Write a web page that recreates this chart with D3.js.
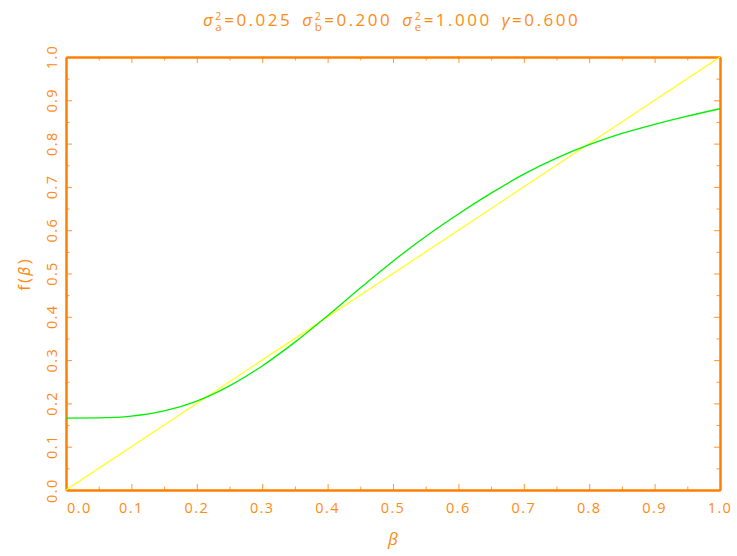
<!DOCTYPE html>
<html><head><meta charset="utf-8">
<script src="https://cdn.jsdelivr.net/npm/d3@7"></script>
<style>
body{margin:0;background:#fff}
svg{display:block}
text{font-family:'Open Sans',sans-serif;font-weight:400}
</style>
</head><body>
<svg id="c" width="737" height="556"></svg>
<script>
// ---- data ----
const betaValues = [0, 0.05, 0.1, 0.15, 0.2, 0.25, 0.3, 0.35, 0.4, 0.45, 0.5, 0.55, 0.6, 0.65, 0.7, 0.75, 0.8, 0.85, 0.9, 0.95, 1.0];
const fValues    = [0.166, 0.1665, 0.1705, 0.1825, 0.2055, 0.2405, 0.2865, 0.3415, 0.4025, 0.4665, 0.5285, 0.5855, 0.6375, 0.6855, 0.7295, 0.7665, 0.7975, 0.8235, 0.8445, 0.8635, 0.8805];
const diagonalBeta = [0, 1];
const diagonalF    = [0, 1];
const majorTicks = [0, 0.1, 0.2, 0.3, 0.4, 0.5, 0.6, 0.7, 0.8, 0.9, 1.0];
const minorTicks = [0.05, 0.15, 0.25, 0.35, 0.45, 0.55, 0.65, 0.75, 0.85, 0.95];
const tickLabels = ["0.0","0.1","0.2","0.3","0.4","0.5","0.6","0.7","0.8","0.9","1.0"];
const titleParams = [
  {sym:"σ", sub:"a", val:"0.025"},
  {sym:"σ", sub:"b", val:"0.200"},
  {sym:"σ", sub:"e", val:"1.000"}
];
const gammaSym = "γ", gammaVal = "0.600";
const xTitle = "β";
const yTitle = "f(β)";

// ---- layout ----
const ORANGE = "#ff8000", TEXT = "#ff8a14";
const svg = d3.select("#c");
const x = d3.scaleLinear().domain([0,1]).range([66,720]);
const y = d3.scaleLinear().domain([0,1]).range([490,57]);

function styleAxis(g){
  g.select(".domain").attr("stroke", ORANGE).attr("stroke-width", 2);
  g.selectAll(".tick line").attr("stroke", ORANGE).attr("stroke-width", 1).attr("opacity", 0.8);
  g.selectAll("text").remove();
}
// minor ticks
[[d3.axisBottom(x), `translate(0,490)`],[d3.axisTop(x), `translate(0,57)`],
 [d3.axisLeft(y), `translate(66,0)`],[d3.axisRight(y), `translate(720,0)`]].forEach(([ax,t])=>{
  svg.append("g").attr("transform", t)
    .call(ax.tickValues(minorTicks).tickSize(-3.5).tickSizeOuter(0).tickFormat(""))
    .call(styleAxis);
});
// major ticks + frame
svg.append("g").attr("transform","translate(0,490)")
  .call(d3.axisBottom(x).tickValues(majorTicks).tickSize(-6).tickSizeOuter(0)).call(styleAxis);
svg.append("g").attr("transform","translate(0,57)")
  .call(d3.axisTop(x).tickValues(majorTicks).tickSize(-6).tickSizeOuter(0)).call(styleAxis);
svg.append("g").attr("transform","translate(66,0)")
  .call(d3.axisLeft(y).tickValues(majorTicks).tickSize(-6).tickSizeOuter(0)).call(styleAxis);
svg.append("g").attr("transform","translate(720,0)")
  .call(d3.axisRight(y).tickValues(majorTicks).tickSize(-6).tickSizeOuter(0)).call(styleAxis);

// tick labels
const lblStyle = s => s.attr("fill", TEXT).attr("font-size", 14.5).attr("letter-spacing", 1.4);
svg.append("g").selectAll("text").data(majorTicks).join("text")
  .attr("x", (d,i)=> i===0 ? 67 : x(d))
  .attr("y", 513)
  .attr("text-anchor", (d,i)=> i===0 ? "start" : "middle")
  .text((d,i)=>tickLabels[i]).call(lblStyle);
svg.append("g").selectAll("text").data(majorTicks).join("text")
  .attr("transform", (d,i)=> i===0 ? `translate(57,503) rotate(-90)` : `translate(57,${y(d)}) rotate(-90)`)
  .attr("text-anchor", (d,i)=> i===0 ? "start" : "middle")
  .text((d,i)=>tickLabels[i]).call(lblStyle);

// axis titles
svg.append("text").attr("x", 393).attr("y", 545).attr("text-anchor","middle")
  .attr("fill", TEXT).attr("font-size", 17).attr("font-family","DejaVu Sans").attr("font-style","italic").text(xTitle);
const yt = svg.append("text").attr("transform","translate(30,274) rotate(-90)").attr("text-anchor","middle")
  .attr("fill", TEXT).attr("font-size", 17).attr("letter-spacing", 2);
yt.append("tspan").text(yTitle.slice(0,2));
yt.append("tspan").attr("font-family","DejaVu Sans").attr("font-style","italic").attr("font-size",15).text(yTitle.slice(2,3));
yt.append("tspan").text(yTitle.slice(3));

// curves
svg.append("path").datum(diagonalBeta.map((b,i)=>[b, diagonalF[i]]))
  .attr("d", d3.line().x(d=>x(d[0])).y(d=>y(d[1])))
  .attr("fill","none").attr("stroke","#ffff00").attr("stroke-width",1.1);
svg.append("path").datum(betaValues.map((b,i)=>[b, fValues[i]]))
  .attr("d", d3.line().x(d=>x(d[0])).y(d=>y(d[1])).curve(d3.curveMonotoneX))
  .attr("fill","none").attr("stroke","#00f000").attr("stroke-width",1.3);

// title
const tg = svg.append("g");
let cx = 0;
const FS = 17, LS = 2.5;
function piece(txt, dx, dy, fs, fam, italic){
  const t = tg.append("text").attr("x", cx + dx).attr("y", 26 + dy).attr("fill", TEXT)
    .attr("font-size", fs).attr("letter-spacing", LS).text(txt);
  if (fam) t.attr("font-family", fam);
  if (italic) t.attr("font-style", "italic");
  return t.node().getComputedTextLength();
}
titleParams.forEach((p, i) => {
  cx += piece(p.sym, 0, 0, FS, "DejaVu Sans", true);
  const w1 = piece("2", 0, -6, 10.5);
  const w2 = piece(p.sub, 0, 5, 11.5);
  cx += Math.max(w1, w2);
  cx += piece("=" + p.val, 0, 0, FS);
  cx += 10;
});
cx += piece(gammaSym, 0, 0, FS, "DejaVu Sans", true);
cx += piece("=" + gammaVal, 0, 0, FS);
const total = cx;
tg.attr("transform", `translate(${391.5 - total/2},0)`);
</script>
</body></html>
